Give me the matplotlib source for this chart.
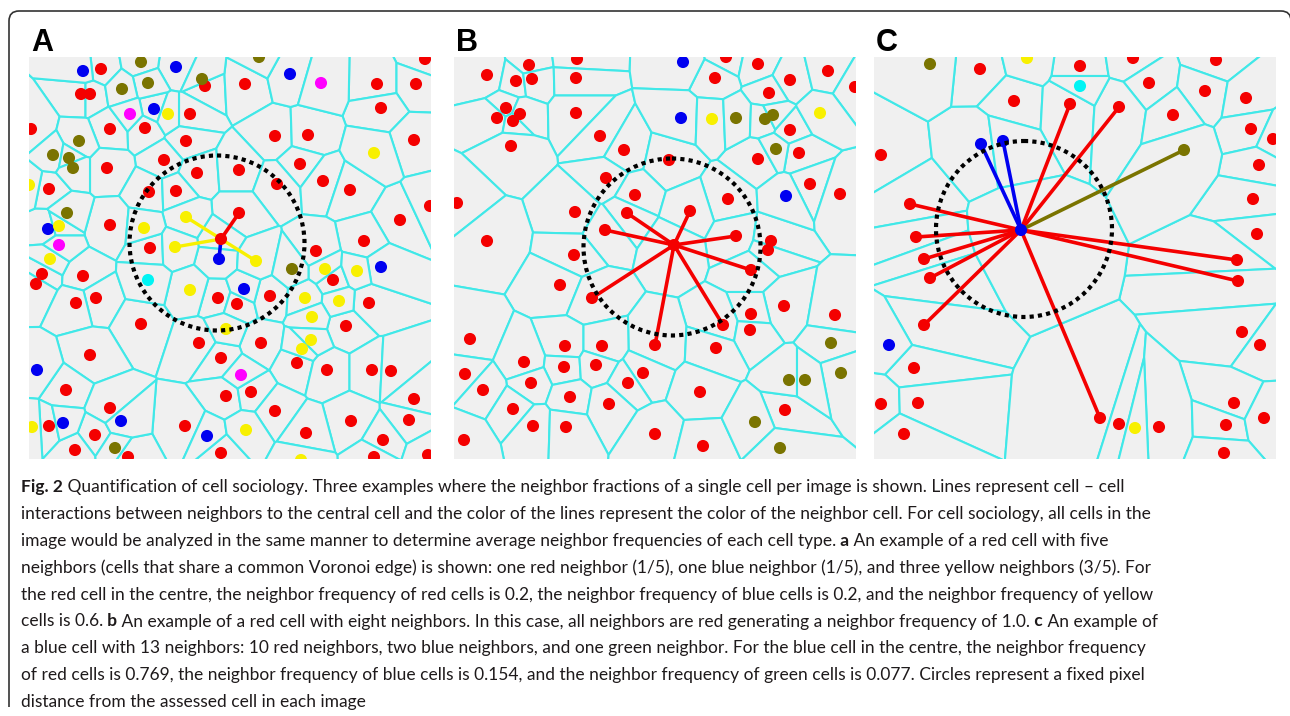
import numpy as np
import matplotlib.pyplot as plt
from matplotlib.collections import PolyCollection
from matplotlib.patches import Circle, PathPatch
from matplotlib.path import Path

# ---------------- data (panel pixel coordinates, 0..402, y down) ----------------
a_red = [(72, 12), (396, 2), (52, 37), (61, 37), (176, 29), (216, 27), (348, 27), (387, 27),
         (161, 57), (352, 51), (2, 72), (81, 72), (116, 71), (157, 84), (246, 79), (279, 78),
         (385, 83), (135, 103), (78, 111), (168, 116), (210, 113), (271, 107), (20, 132),
         (120, 135), (147, 134), (248, 127), (294, 124), (321, 133), (81, 168), (210, 156),
         (371, 163), (401, 149), (192, 182), (121, 191), (335, 184), (287, 194), (304, 223),
         (13, 217), (7, 227), (54, 219), (67, 241), (47, 246), (189, 241), (208, 247),
         (241, 239), (340, 246), (112, 267), (317, 269), (170, 286), (232, 286), (61, 298),
         (192, 301), (268, 306), (298, 313), (343, 313), (362, 314), (37, 333), (197, 339),
         (222, 335), (385, 342), (81, 351), (246, 354), (20, 369), (156, 369), (322, 364),
         (380, 363), (66, 378), (277, 376), (354, 383), (46, 393), (99, 400), (192, 396),
         (345, 400), (399, 398)]
a_blue = [(54, 14), (147, 10), (261, 17), (125, 52), (19, 172), (190, 202), (352, 210),
          (215, 232), (8, 313), (34, 366), (92, 364), (178, 379)]
a_yellow = [(139, 57), (345, 96), (0, 128), (30, 169), (157, 160), (115, 171), (146, 190),
            (21, 202), (227, 204), (296, 212), (328, 214), (161, 233), (276, 241), (310, 244),
            (283, 260), (197, 272), (282, 283), (273, 292), (3, 370), (217, 373), (272, 403)]
a_olive = [(112, 5), (230, 0), (119, 26), (93, 32), (173, 22), (50, 84), (24, 98), (40, 101),
           (44, 111), (38, 156), (263, 212), (86, 391)]
a_magenta = [(292, 26), (101, 57), (30, 188), (212, 318)]
a_cyan = [(119, 223)]
a_center = (192, 182)
a_links = [(210, 156, 'red'), (157, 160, 'yellow'), (146, 190, 'yellow'),
           (227, 204, 'yellow'), (190, 202, 'blue')]
a_circle = (188, 186, 87.5)

b_red = [(33, 18), (75, 8), (62, 24), (78, 22), (123, 2), (122, 21), (272, 0), (304, 7),
         (261, 21), (336, 23), (374, 14), (401, 30), (315, 36), (52, 51), (66, 57), (43, 61),
         (59, 64), (122, 56), (336, 73), (146, 79), (57, 89), (170, 93), (345, 96), (304, 102),
         (215, 103), (152, 121), (356, 127), (386, 137), (181, 138), (274, 142), (3, 146),
         (121, 155), (173, 156), (236, 154), (151, 173), (282, 179), (317, 184), (314, 193),
         (33, 184), (220, 188), (120, 198), (297, 213), (106, 228), (138, 241), (330, 249),
         (381, 258), (297, 257), (269, 268), (296, 273), (16, 282), (201, 288), (111, 289),
         (148, 289), (262, 291), (70, 305), (110, 310), (142, 308), (189, 316), (11, 317),
         (77, 326), (174, 326), (29, 333), (246, 335), (116, 340), (155, 347), (59, 352),
         (331, 353), (79, 369), (112, 370), (201, 377), (10, 383), (249, 389)]
b_blue = [(229, 5), (227, 61), (332, 139)]
b_yellow = [(258, 62), (366, 56)]
b_olive = [(282, 61), (311, 62), (319, 58), (322, 92), (377, 286), (387, 316), (335, 323),
           (351, 323), (301, 365), (326, 391)]
b_center = (220, 188)
b_links = [(173, 156, 'red'), (236, 154, 'red'), (151, 173, 'red'), (282, 179, 'red'),
           (297, 213, 'red'), (138, 241, 'red'), (269, 268, 'red'), (201, 288, 'red')]
b_circle = (218, 190, 88.5)

c_red = [(106, 12), (206, 9), (259, 1), (342, 3), (275, 26), (331, 34), (372, 41), (140, 44),
         (196, 47), (245, 50), (299, 58), (377, 72), (399, 82), (7, 98), (385, 108), (379, 142),
         (36, 147), (42, 180), (383, 177), (50, 202), (363, 203), (56, 221), (364, 224),
         (50, 268), (368, 275), (386, 288), (40, 311), (7, 347), (44, 346), (360, 346),
         (226, 361), (245, 367), (285, 370), (352, 368), (390, 361), (30, 377), (350, 396)]
c_blue = [(107, 87), (129, 84), (147, 173), (15, 288)]
c_yellow = [(153, 1), (261, 371)]
c_olive = [(56, 7), (310, 93)]
c_cyan = [(206, 29)]
c_center = (147, 173)
c_links = [(196, 47, 'red'), (245, 50, 'red'), (36, 147, 'red'), (42, 180, 'red'),
           (50, 202, 'red'), (56, 221, 'red'), (50, 268, 'red'), (363, 203, 'red'),
           (364, 224, 'red'), (226, 361, 'red'), (107, 87, 'blue'), (129, 84, 'blue'),
           (310, 93, 'olive')]
c_circle = (150, 172, 88)

labels = ['A', 'B', 'C']
panel_left = [29, 454, 874]   # figure pixels
panel_top = 57
panel_size = 402

caption = [
    [('Fig. 2', True), (' Quantification of cell sociology. Three examples where the neighbor fractions of a single cell per image is shown. Lines represent cell \u2013 cell', False)],
    [('interactions between neighbors to the central cell and the color of the lines represent the color of the neighbor cell. For cell sociology, all cells in the', False)],
    [('image would be analyzed in the same manner to determine average neighbor frequencies of each cell type.', False), (' a', True), (' An example of a red cell with five', False)],
    [('neighbors (cells that share a common Voronoi edge) is shown: one red neighbor (1/5), one blue neighbor (1/5), and three yellow neighbors (3/5). For', False)],
    [('the red cell in the centre, the neighbor frequency of red cells is 0.2, the neighbor frequency of blue cells is 0.2, and the neighbor frequency of yellow', False)],
    [('cells is 0.6.', False), (' b', True), (' An example of a red cell with eight neighbors. In this case, all neighbors are red generating a neighbor frequency of 1.0.', False), (' c', True), (' An example of', False)],
    [('a blue cell with 13 neighbors: 10 red neighbors, two blue neighbors, and one green neighbor. For the blue cell in the centre, the neighbor frequency', False)],
    [('of red cells is 0.769, the neighbor frequency of blue cells is 0.154, and the neighbor frequency of green cells is 0.077. Circles represent a fixed pixel', False)],
    [('distance from the assessed cell in each image', False)],
]

COLORS = {'red': '#f40000', 'blue': '#0000f0', 'yellow': '#f8f000', 'olive': '#7a7400',
          'magenta': '#ff00ff', 'cyan': '#00f4f4'}
EDGE = '#40e8e8'
CELL = '#f0f0f0'
W, H = 1290, 716


def clip(poly, p, q):
    # keep the part of poly closer to p than to q
    n = q - p
    c = n @ (p + q) / 2
    out = []
    k = len(poly)
    for i in range(k):
        a, b = poly[i], poly[(i + 1) % k]
        da, db = a @ n - c, b @ n - c
        if da <= 0:
            out.append(a)
        if da * db < 0:
            t = da / (da - db)
            out.append(a + t * (b - a))
    return out


def voronoi_cells(pts, lo, hi):
    cells = []
    for p in pts:
        poly = [np.array(v, float) for v in [(lo, lo), (hi, lo), (hi, hi), (lo, hi)]]
        d = np.hypot(*(pts - p).T)
        for j in np.argsort(d)[1:]:
            reach = max(np.hypot(*(v - p)) for v in poly)
            if d[j] / 2 > reach:
                break
            poly = clip(poly, p, pts[j])
        cells.append(np.array(poly))
    return cells


def draw_panel(ax, groups, center, links, circ):
    allpts = np.array([xy for g in groups.values() for xy in g], float)
    cells = voronoi_cells(allpts, -12, 414)
    ax.add_collection(PolyCollection(cells, facecolor=CELL, edgecolor=EDGE, linewidth=1.5))
    for x, y, col in links:
        lw = 2.6 if col != 'yellow' else 2.4
        ax.plot([center[0], x], [center[1], y], color=COLORS[col], lw=lw,
                solid_capstyle='round', zorder=3)
    for col, g in groups.items():
        g = np.array(g, float)
        ax.scatter(g[:, 0], g[:, 1], s=76, color=COLORS[col], edgecolors='none', zorder=4)
    ax.add_patch(Circle(circ[:2], circ[2], fill=False, ec='black', lw=3,
                        ls=(0, (1, 1)), zorder=5))
    ax.set_xlim(0, panel_size)
    ax.set_ylim(panel_size, 0)
    ax.axis('off')


fig = plt.figure(figsize=(W / 100, H / 100), dpi=100)
bg = fig.add_axes([0, 0, 1, 1])
bg.set_xlim(0, W)
bg.set_ylim(H, 0)
bg.axis('off')

# rounded frame, open at the bottom
r = 10
verts = [(9, 707), (9, 11 + r), (9, 11), (9 + r, 11), (1291 - r, 11), (1291, 11), (1291, 11 + r), (1291, 716)]
codes = [Path.MOVETO, Path.LINETO, Path.CURVE3, Path.CURVE3, Path.LINETO, Path.CURVE3, Path.CURVE3, Path.LINETO]
bg.add_patch(PathPatch(Path(verts, codes), fill=False, ec='#333333', lw=1.2))

panels = [
    ({'red': a_red, 'blue': a_blue, 'yellow': a_yellow, 'olive': a_olive,
      'magenta': a_magenta, 'cyan': a_cyan}, a_center, a_links, a_circle),
    ({'red': b_red, 'blue': b_blue, 'yellow': b_yellow, 'olive': b_olive},
     b_center, b_links, b_circle),
    ({'red': c_red, 'blue': c_blue, 'yellow': c_yellow, 'olive': c_olive, 'cyan': c_cyan},
     c_center, c_links, c_circle),
]
for i, (groups, center, links, circ) in enumerate(panels):
    ax = fig.add_axes([panel_left[i] / W, (H - panel_top - panel_size) / H,
                       panel_size / W, panel_size / H])
    draw_panel(ax, groups, center, links, circ)
    bg.text(panel_left[i] + 2, 51, labels[i], fontsize=22, fontweight='bold',
            family='Liberation Sans', va='baseline', ha='left', color='black')

# caption, bold pieces chained after the regular ones
for k, line in enumerate(caption):
    prev = None
    for s, bold in line:
        kw = dict(fontsize=12.5, family='Lato', color='#1e1a1b',
                  fontweight='bold' if bold else 'normal')
        if prev is None:
            prev = bg.text(21, 492 + 26.9 * k, s, va='baseline', ha='left', **kw)
        else:
            prev = bg.annotate(s, xy=(1, 0), xycoords=prev, va='bottom', ha='left', **kw)

fig.savefig('out.png', dpi=100)
